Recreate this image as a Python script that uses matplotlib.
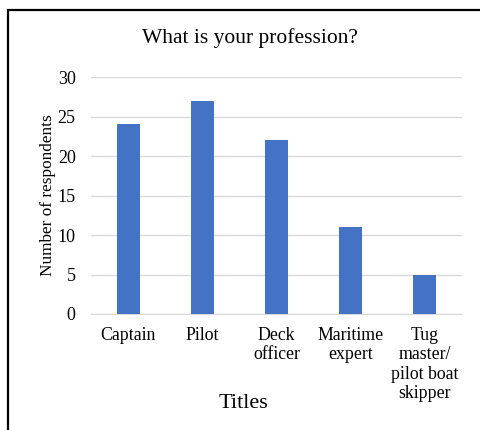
import matplotlib
matplotlib.use("Agg")
import matplotlib.pyplot as plt
from matplotlib.patches import Rectangle

categories = ["Captain", "Pilot", "Deck\nofficer", "Maritime\nexpert", "Tug\nmaster/\npilot boat\nskipper"]
respondents = [24, 27, 22, 11, 5]
yticks = [0, 5, 10, 15, 20, 25, 30]

plt.rcParams["font.family"] = ["Liberation Serif", "DejaVu Serif"]

W, H = 481, 430
fig = plt.figure(figsize=(W / 100, H / 100), dpi=100)
fig.patch.set_facecolor("white")

# outer frame running off the right and bottom edges
fig.add_artist(Rectangle((8 / W, -0.1), 1.2, 1 - 10 / H + 0.1, transform=fig.transFigure,
                         fill=False, edgecolor="black", linewidth=1.6))

ax = fig.add_axes([91 / W, 1 - 314 / H, (462 - 91) / W, (314 - 77) / H])
x = range(len(categories))
ax.bar(x, respondents, width=0.31, color="#4472c4", zorder=3)
ax.set_xlim(-0.5, len(categories) - 0.5)
ax.set_ylim(0, 30)
ax.set_yticks(yticks)
ax.set_yticklabels([str(v) for v in yticks], fontsize=13)
ax.set_xticks(list(x))
ax.set_xticklabels(categories, fontsize=12.8, linespacing=1.2, va="top")
ax.tick_params(axis="both", length=0)
ax.tick_params(axis="y", pad=11)
ax.tick_params(axis="x", pad=9)
ax.grid(axis="y", color="#d9d9d9", linewidth=1, zorder=0)
for s in ["top", "right", "left"]:
    ax.spines[s].set_visible(False)
ax.spines["bottom"].set_color("#d9d9d9")

ax.set_ylabel("Number of respondents", fontsize=12.4, labelpad=1)
fig.text(250 / W, 1 - 38 / H, "What is your profession?", ha="center", va="center", fontsize=15.5)
fig.text(243 / W, 1 - 404 / H, "Titles", ha="center", va="center", fontsize=16)

fig.savefig("out.png", dpi=100)
